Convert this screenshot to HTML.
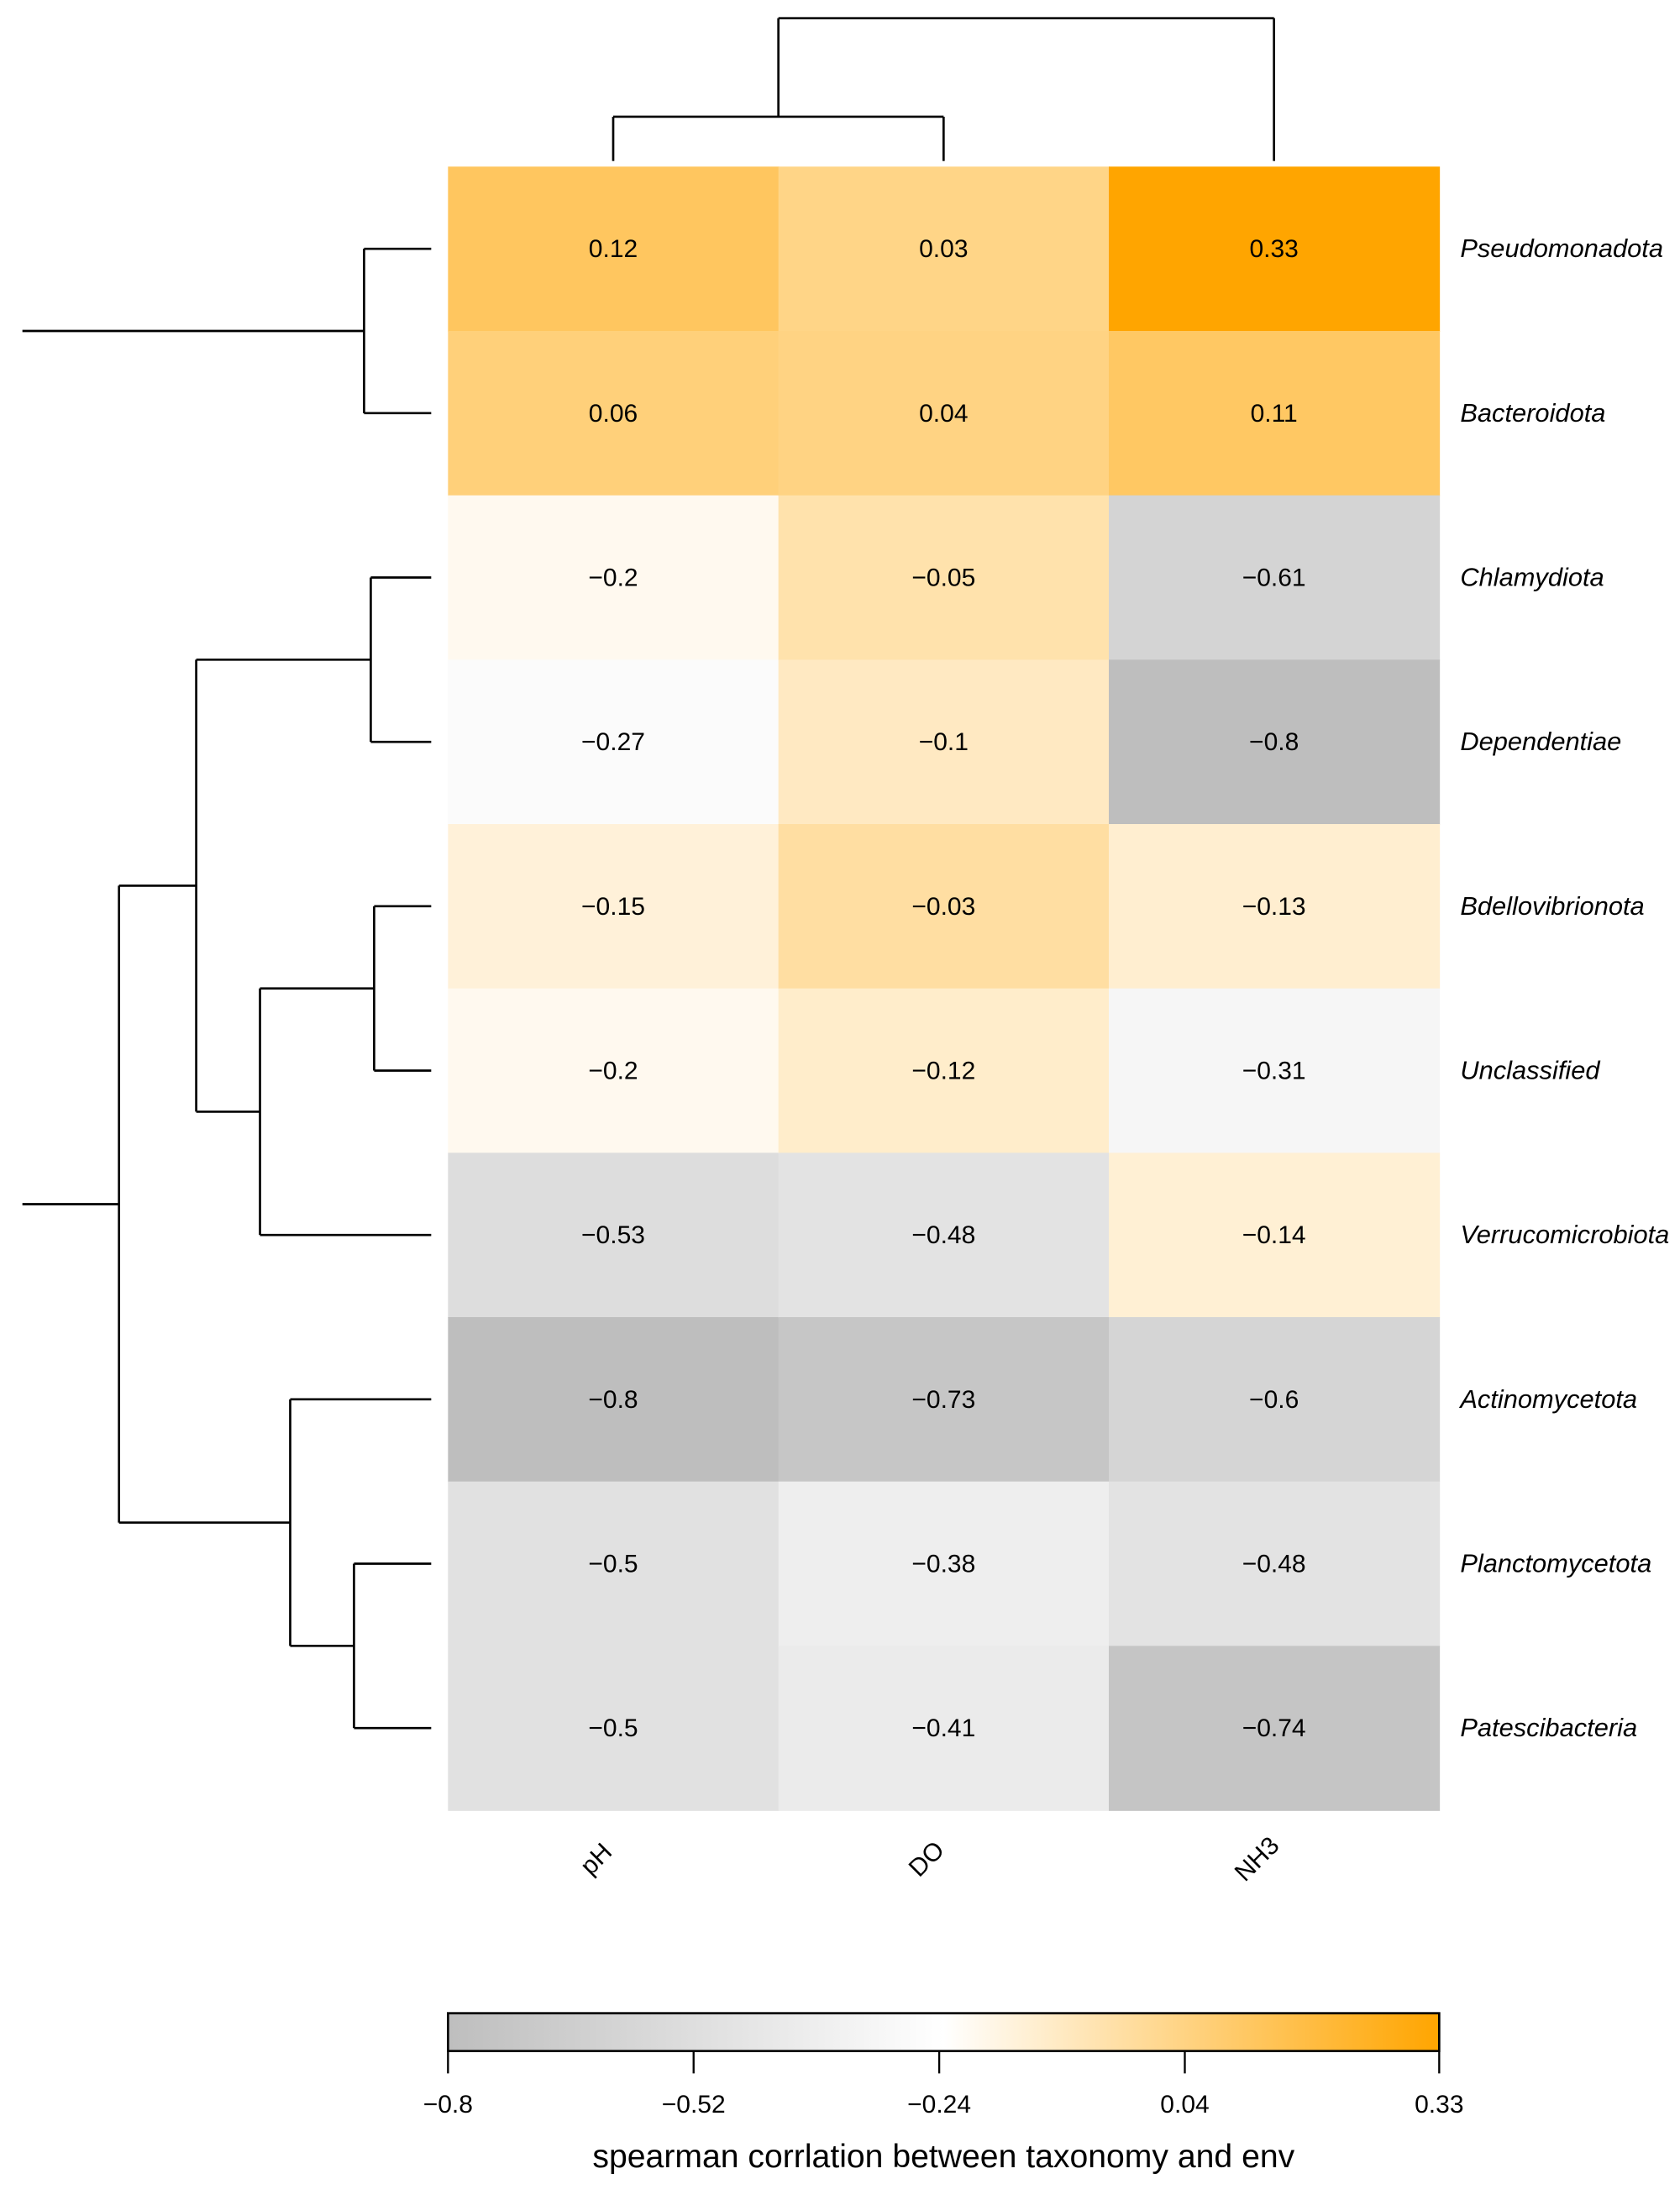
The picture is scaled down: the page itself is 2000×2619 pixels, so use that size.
<!DOCTYPE html>
<html><head><meta charset="utf-8"><style>
html,body{margin:0;padding:0;background:#fff;}
svg{display:block;font-family:"Liberation Sans",Arial,sans-serif;}
</style></head><body>
<svg id="chart" width="2000" height="2619" viewBox="0 0 1200 1571.4" xmlns="http://www.w3.org/2000/svg">
<defs>
<linearGradient id="cbgrad" x1="0" x2="1" y1="0" y2="0">
<stop offset="0" stop-color="#bebebe"/><stop offset="0.5" stop-color="#ffffff"/><stop offset="1" stop-color="#ffa500"/>
</linearGradient>
</defs>
<g id="heat"></g>
<g id="dendro"></g>
<g id="legend"></g>
</svg>
<script>
const rows = ["Pseudomonadota","Bacteroidota","Chlamydiota","Dependentiae","Bdellovibrionota","Unclassified","Verrucomicrobiota","Actinomycetota","Planctomycetota","Patescibacteria"];
const cols = ["pH","DO","NH3"];
const valPH  = [0.12,0.06,-0.2,-0.27,-0.15,-0.2,-0.53,-0.8,-0.5,-0.5];
const valDO  = [0.03,0.04,-0.05,-0.1,-0.03,-0.12,-0.48,-0.73,-0.38,-0.41];
const valNH3 = [0.33,0.11,-0.61,-0.8,-0.13,-0.31,-0.14,-0.6,-0.48,-0.74];
const tickVals = [-0.8,-0.52,-0.24,0.04,0.33];
const tickLabels = ["\u22120.8","\u22120.52","\u22120.24","0.04","0.33"];
const rowMerges = [[0,1,0.2],[2,3,0.18],[4,5,0.17],[12,6,0.51],[11,13,0.7],[8,9,0.23],[7,15,0.42],[14,16,0.93]];
const colMerges = [[0,1,0.31],[3,2,1.0]];

const NS="http://www.w3.org/2000/svg";
const L=320,R=1028,T=119,B=1293;
const cw=(R-L)/cols.length, rh=(B-T)/rows.length;
const vmin=-0.8,vmax=0.33;
function xCol(i){return L+cw*(i+0.5);}
function yRow(i){return T+rh*(i+0.5);}
function color(v){
  let t=(v-vmin)/(vmax-vmin); t=Math.max(0,Math.min(1,t));
  let a,b,u;
  if(t<0.5){a=[190,190,190];b=[255,255,255];u=t/0.5;}else{a=[255,255,255];b=[255,165,0];u=(t-0.5)/0.5;}
  return `rgb(${a.map((c,k)=>Math.round(c+(b[k]-c)*u)).join(",")})`;
}
function mk(tag,attrs,parent){const e=document.createElementNS(NS,tag);for(const k in attrs)e.setAttribute(k,attrs[k]);parent.appendChild(e);return e;}
const heat=document.getElementById('heat');
const series=[valPH,valDO,valNH3];
series.forEach((vals,c)=>{
  vals.forEach((v,r)=>{
    const rect=mk('rect',{x:L+cw*c,y:T+rh*r,width:cw+0.5,height:rh+0.5,fill:color(v)},heat);
    
    
    const t=mk('text',{x:xCol(c),y:yRow(r)+6,'text-anchor':'middle','font-size':18,fill:'#000'},heat);
    t.textContent=String(v).replace('-','\u2212');
    
    
  });
});
rows.forEach((n,r)=>{
  const t=mk('text',{x:1043,y:yRow(r)+6,'font-size':18.5,'font-style':'italic',fill:'#000'},heat);
  t.textContent=n;
  
  
});
cols.forEach((n,c)=>{
  const x=xCol(c)-8,y=1332;
  const t=mk('text',{x:x,y:y,'font-size':18,'text-anchor':'middle',transform:`rotate(-45 ${x} ${y})`,fill:'#000'},heat);
  t.textContent=n;
  
  
});
const dg=document.getElementById('dendro');
function line(x1,y1,x2,y2){const l=mk('line',{x1,y1,x2,y2,stroke:'#000','stroke-width':1.6},dg);}
const rowX=h=>308-h*(308-85)/0.93;
(function(){
  const pos=rows.map((_,i)=>yRow(i)); const hts=rows.map(()=>0);
  rowMerges.forEach(([a,b,h])=>{
    const x=rowX(h);
    line(rowX(hts[a]),pos[a],x,pos[a]); line(rowX(hts[b]),pos[b],x,pos[b]); line(x,pos[a],x,pos[b]);
    pos.push((pos[a]+pos[b])/2); hts.push(h);
  });
  line(16,pos[10],rowX(hts[10]),pos[10]);
  line(16,pos[pos.length-1],rowX(hts[hts.length-1]),pos[pos.length-1]);
})();
const colY=h=>115-h*(115-13);
(function(){
  const pos=cols.map((_,i)=>xCol(i)); const hts=cols.map(()=>0);
  colMerges.forEach(([a,b,h])=>{
    const y=colY(h);
    line(pos[a],colY(hts[a]),pos[a],y); line(pos[b],colY(hts[b]),pos[b],y); line(pos[a],y,pos[b],y);
    pos.push((pos[a]+pos[b])/2); hts.push(h);
  });
})();
const lg=document.getElementById('legend');
const cbx=d=>L+(d-vmin)/(vmax-vmin)*(R-L);
const bar=mk('rect',{x:L,y:1438,width:R-L,height:27,fill:'url(#cbgrad)',stroke:'#000','stroke-width':1.6},lg);


tickVals.forEach((v,i)=>{
  const tk=mk('line',{x1:cbx(v),y1:1465,x2:cbx(v),y2:1481,stroke:'#000','stroke-width':1.4},lg);
  
  
  const t=mk('text',{x:cbx(v),y:1509,'text-anchor':'middle','font-size':18,fill:'#000'},lg);
  t.textContent=tickLabels[i];
  
  
});
const ttl=mk('text',{x:674,y:1548,'text-anchor':'middle','font-size':23.5,fill:'#000'},lg);
ttl.textContent='spearman corrlation between taxonomy and env';


</script>
</body></html>
